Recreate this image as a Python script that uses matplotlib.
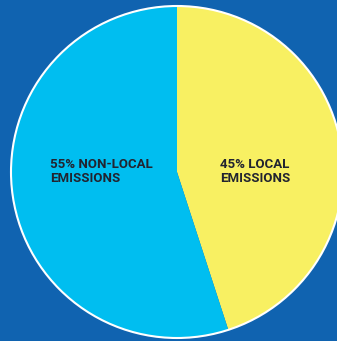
#!/usr/bin/env python3
"""Share of local vs non-local emissions, drawn as a two-slice pie."""
import matplotlib
matplotlib.use("Agg")
import matplotlib.pyplot as plt
from matplotlib.patches import Circle

labels = ["45% LOCAL\nEMISSIONS", "55% NON-LOCAL\nEMISSIONS"]
shares = [45, 55]
colors = ["#F8F062", "#00BEF0"]

BG = "#1063B0"
W, H = 337, 341

fig = plt.figure(figsize=(W / 100, H / 100), dpi=100, facecolor=BG)
ax = fig.add_axes([0, 0, 1, 1])
ax.set_facecolor(BG)

center = (177, H - 172)
radius = 166
ax.pie(shares, colors=colors, startangle=90, counterclock=False,
       center=center, radius=radius, frame=True,
       wedgeprops=dict(linewidth=0))
ax.set_xlim(0, W)
ax.set_ylim(0, H)
ax.set_aspect("equal")
ax.axis("off")
ax.add_patch(Circle(center, radius, fill=False, edgecolor="white", linewidth=1.5))

text_kw = dict(fontsize=9.5, fontweight="bold", family="Roboto",
               color="#222430", ha="left", va="center", linespacing=1.1)
ax.text(220, H - 171, labels[0], **text_kw)
ax.text(50, H - 171, labels[1], **text_kw)

fig.savefig("out.png", dpi=100, facecolor=BG)
